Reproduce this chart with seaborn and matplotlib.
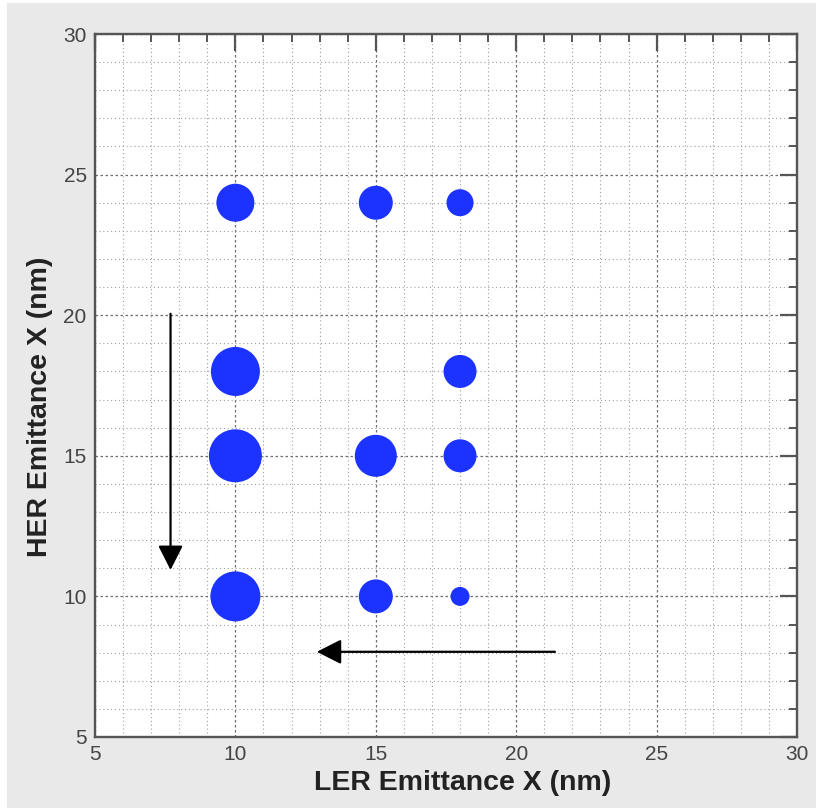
import matplotlib
matplotlib.use("Agg")
import matplotlib.pyplot as plt
from matplotlib.patches import Rectangle
from matplotlib.ticker import MultipleLocator
import numpy as np
import pandas as pd
import seaborn as sns

# Emittance scan points (nm) and the value shown by each spot's size
ler_emit = [10, 15, 18, 10, 18, 10, 15, 18, 10, 15, 18]
her_emit = [24, 24, 24, 18, 18, 15, 15, 15, 10, 10, 10]
spot_value = [38, 34, 27, 49, 33, 53, 42, 33, 50, 34, 19]

x_ticks = [5, 10, 15, 20, 25, 30]
y_ticks = [5, 10, 15, 20, 25, 30]

df = pd.DataFrame({"ler": ler_emit, "her": her_emit, "val": spot_value})

sns.set_style("white")
plt.rcParams["font.family"] = ["Liberation Sans", "DejaVu Sans"]

DPI = 100
fig = plt.figure(figsize=(8.16, 8.08), dpi=DPI)
fig.patch.set_facecolor("white")
fig.patches.append(Rectangle((7 / 816, 0), 1 - 7 / 816, 1 - 3 / 808,
                             transform=fig.transFigure, facecolor="#e9e9e9",
                             edgecolor="none", zorder=-10))

ax = fig.add_axes([95 / 816, 71 / 808, 702 / 816, 703 / 808])
ax.set_zorder(5)
ax.set_facecolor("white")

# marker area in pt^2 from value (value read as diameter in pixels)
size_map = {v: (v * 72 / DPI) ** 2 for v in sorted(set(spot_value))}

sns.scatterplot(data=df, x="ler", y="her", size="val", sizes=size_map,
                color="#1c33ff", edgecolor="none", linewidth=0, legend=False,
                ax=ax, zorder=3)

ax.set_xlim(5, 30)
ax.set_ylim(5, 30)
ax.set_xticks(x_ticks)
ax.set_yticks(y_ticks)
ax.set_xticklabels([str(t) for t in x_ticks])
ax.set_yticklabels([str(t) for t in y_ticks])
ax.xaxis.set_minor_locator(MultipleLocator(1))
ax.yaxis.set_minor_locator(MultipleLocator(1))

ax.grid(which="major", color="#6e6e6e", linestyle=(0, (2, 2)), linewidth=0.9, zorder=1)
ax.grid(which="minor", color="#a0a0a0", linestyle=(0, (1, 2.5)), linewidth=0.8, zorder=1)
ax.set_axisbelow(True)

ax.tick_params(which="both", direction="in", top=True, right=True,
               color="#555555", labelcolor="#444444", labelsize=15)
ax.tick_params(which="major", length=12, width=1.6, pad=6)
ax.tick_params(which="minor", length=6, width=1.4)

for s in ax.spines.values():
    s.set_color("#555555")
    s.set_linewidth(1.7)
    s.set_visible(True)

ax.set_xlabel("LER Emittance X (nm)", fontsize=20.5, fontweight="bold",
              color="#222222")
ax.set_ylabel("HER Emittance X (nm)", fontsize=20.5, fontweight="bold",
              color="#222222")
ax.xaxis.set_label_coords(0.523, -0.047)
ax.yaxis.set_label_coords(-0.06, 0.469)

arrow_kw = dict(arrowstyle="-|>,head_length=0.75,head_width=0.38",
                color="black", lw=1.6, mutation_scale=20,
                shrinkA=0, shrinkB=0)
ax.annotate("", xy=(7.69, 10.94), xytext=(7.69, 20.05), arrowprops=arrow_kw, zorder=4)
ax.annotate("", xy=(12.9, 8.03), xytext=(21.38, 8.03), arrowprops=arrow_kw, zorder=4)

fig.savefig("out.png", dpi=DPI, facecolor=fig.get_facecolor())
